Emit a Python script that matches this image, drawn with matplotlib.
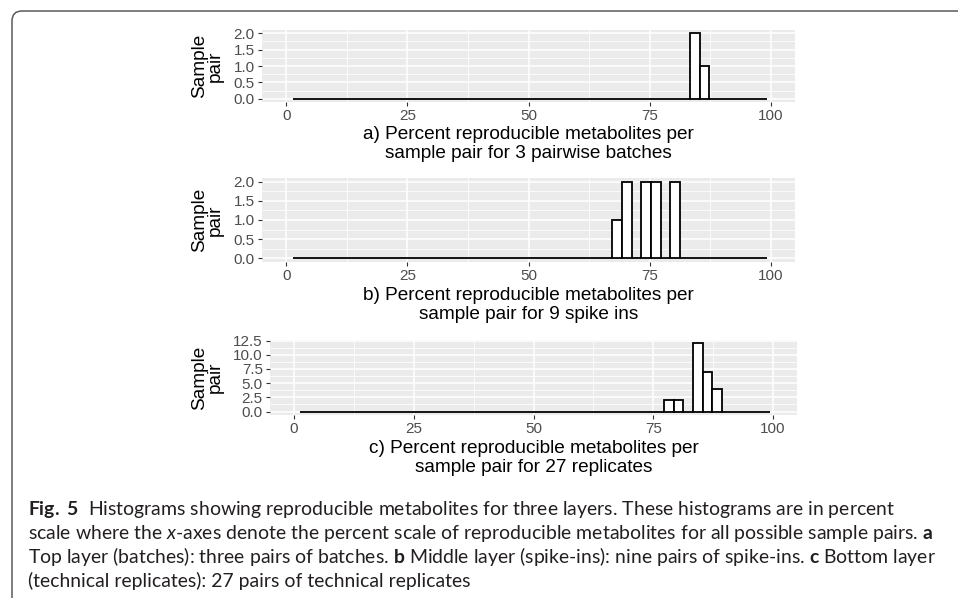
import numpy as np
import matplotlib
matplotlib.use("Agg")
import matplotlib.pyplot as plt
from matplotlib.patches import FancyBboxPatch

# Histogram grid (percent reproducible metabolites), 2-unit bins
bin_start = 1.3
bin_width = 2.0
n_bins = 49

# Non-empty bins per panel: left edge of bin and number of sample pairs
a_left = [83.3, 85.3]
a_count = [2, 1]
b_left = [67.3, 69.3, 73.3, 75.3, 79.3]
b_count = [1, 2, 2, 2, 2]
c_left = [77.3, 79.3, 83.3, 85.3, 87.3]
c_count = [2, 2, 12, 7, 4]

a_yticks = [0.0, 0.5, 1.0, 1.5, 2.0]
c_yticks = [0.0, 2.5, 5.0, 7.5, 10.0, 12.5]
x_ticks = [0, 25, 50, 75, 100]

titles = [
    "a) Percent reproducible metabolites per\nsample pair for 3 pairwise batches",
    "b) Percent reproducible metabolites per\nsample pair for 9 spike ins",
    "c) Percent reproducible metabolites per\nsample pair for 27 replicates",
]

caption = [
    r"$\mathbf{Fig.\ 5}$  Histograms showing reproducible metabolites for three layers. These histograms are in percent",
    r"scale where the $\mathit{x}$-axes denote the percent scale of reproducible metabolites for all possible sample pairs. $\mathbf{a}$",
    r"Top layer (batches): three pairs of batches. $\mathbf{b}$ Middle layer (spike-ins): nine pairs of spike-ins. $\mathbf{c}$ Bottom layer",
    "(technical replicates): 27 pairs of technical replicates",
]

plt.rcParams["font.family"] = ["Liberation Sans", "DejaVu Sans"]
plt.rcParams["mathtext.fontset"] = "custom"
plt.rcParams["mathtext.rm"] = "Lato"
plt.rcParams["mathtext.bf"] = "Lato:bold"
plt.rcParams["mathtext.it"] = "Lato:italic"

W, H = 958, 598
fig = plt.figure(figsize=(W / 100, H / 100), dpi=100)


def px_axes(left, right, top, bottom):
    return fig.add_axes([left / W, 1 - bottom / H, (right - left) / W, (bottom - top) / H])


def hist_panel(ax, lefts, counts, yticks, ymax):
    edges = bin_start + bin_width * np.arange(n_bins)
    full = np.zeros(n_bins)
    for l, c in zip(lefts, counts):
        full[int(round((l - bin_start) / bin_width))] = c
    ax.set_facecolor("#EBEBEB")
    ax.bar(edges, full, width=bin_width, align="edge", color="white",
           edgecolor="black", linewidth=1.3, zorder=3)
    pad = ymax * 0.05
    ax.set_xlim(-5, 105)
    ax.set_ylim(-pad, ymax + pad)
    ax.set_xticks(x_ticks)
    ax.set_xticks([12.5, 37.5, 62.5, 87.5], minor=True)
    ax.set_yticks(yticks)
    ax.set_yticklabels([f"{v:.1f}" for v in yticks])
    ax.set_yticks([(a + b) / 2 for a, b in zip(yticks[:-1], yticks[1:])], minor=True)
    ax.grid(which="major", color="white", linewidth=1.1, zorder=0)
    ax.grid(which="minor", color="white", linewidth=0.55, zorder=0)
    ax.set_axisbelow(True)
    for s in ax.spines.values():
        s.set_visible(False)
    ax.tick_params(which="major", length=3.2, width=0.8, color="#333333",
                   labelsize=11, labelcolor="#4D4D4D", pad=2)
    ax.tick_params(which="minor", length=0)


panels = [
    (262, 795, 30, 102, a_left, a_count, a_yticks, 2.0, 144),
    (262, 795, 178, 262, b_left, b_count, a_yticks, 2.0, 305),
    (270, 797, 340, 415, c_left, c_count, c_yticks, 12.0, 458),
]

for i, (l, r, t, b, lefts, counts, yt, ymax, ty) in enumerate(panels):
    ax = px_axes(l, r, t, b)
    hist_panel(ax, lefts, counts, yt, ymax)
    fig.text((l + r) / 2 / W, 1 - ty / H, titles[i], ha="center", va="center",
             fontsize=13.7, linespacing=1.1)
    fig.text(207 / W, 1 - (t + b) / 2 / H, "Sample\npair", rotation=90,
             ha="center", va="center", multialignment="center",
             fontsize=13.7, linespacing=0.9)

# Figure frame: top and left rules with a rounded corner
frame = FancyBboxPatch((0.12, -1.0), 12.0, 1.0 + (H - 11) / 100,
                       boxstyle="round,pad=0,rounding_size=0.1",
                       transform=fig.dpi_scale_trans, facecolor="none",
                       edgecolor="#5A5A5A", linewidth=1.1, clip_on=False)
fig.add_artist(frame)

# Caption
cap_texts = []
baselines = [515, 539, 563, 587]
for line, yb in zip(caption, baselines):
    cap_texts.append(fig.text(28 / W, 1 - yb / H, line, ha="left", va="baseline",
                              fontsize=10, family="Lato", color="#231F20"))
fig.canvas.draw()
renderer = fig.canvas.get_renderer()
w = cap_texts[1].get_window_extent(renderer).width
size = 10 * 905 / w
for t in cap_texts:
    t.set_fontsize(size)

fig.savefig("out.png", dpi=100)
